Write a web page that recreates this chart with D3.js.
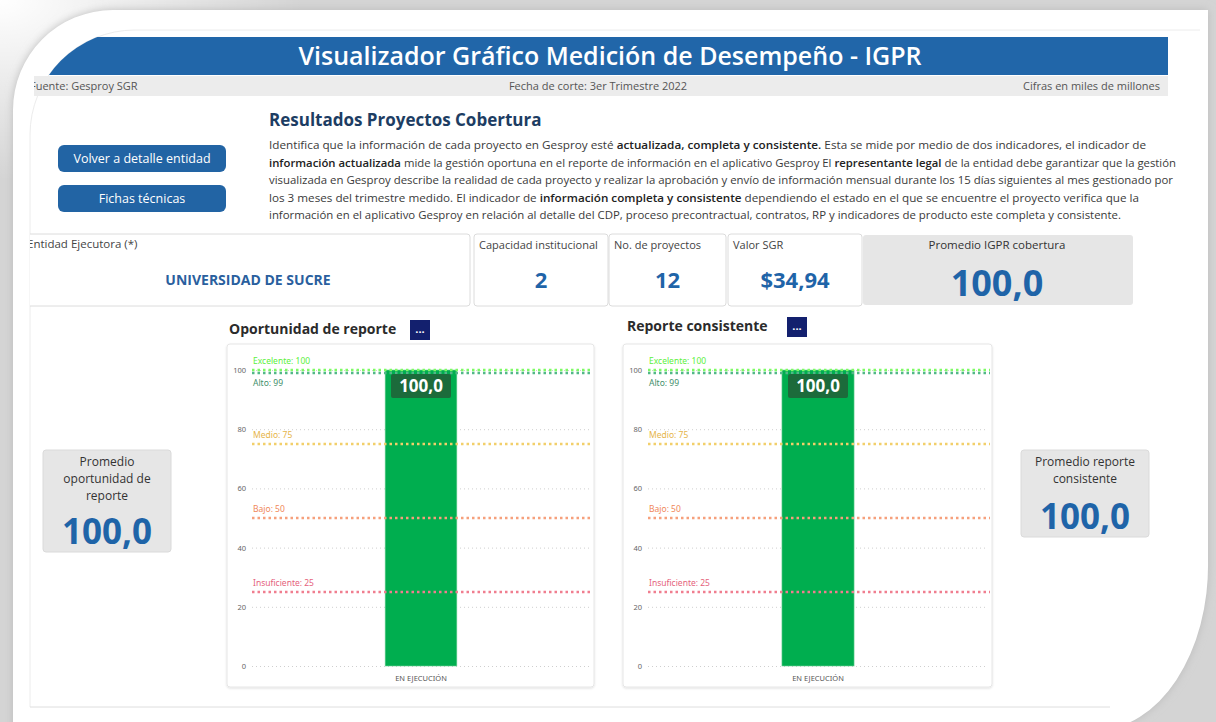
<!DOCTYPE html>
<html>
<head>
<meta charset="utf-8">
<script src="https://cdn.jsdelivr.net/npm/d3@7"></script>
<style>
  body { margin: 0; background: #d6d6d6; }
  svg { display: block; font-family: "Open Sans", "Noto Sans", sans-serif; }
</style>
</head>
<body>
<div id="viz"></div>
<script>
// data
var categories = ['EN EJECUCIÓN'];
var oportunidadValues = [100];
var consistenteValues = [100];
var yTicks = [0, 20, 40, 60, 80, 100];
var levelNames = ['Excelente', 'Alto', 'Medio', 'Bajo', 'Insuficiente'];
var levelValues = [100, 99, 75, 50, 25];
var levelColors = ['#7dfb63', '#52b788', '#f2cf6a', '#f6a07c', '#f07e8f'];
var levelTextColors = ['#5cf03c', '#3f8f6c', '#e6b54a', '#f0875a', '#e5627c'];

var kpiLabels = ['Capacidad institucional', 'No. de proyectos', 'Valor SGR'];
var kpiValues = ['2', '12', '$34,94'];
var entidad = 'UNIVERSIDAD DE SUCRE';
var promedioIGPR = 100.0;
var promedioOportunidad = 100.0;
var promedioConsistente = 100.0;

var paragraph = [
  'Identifica que la información de cada proyecto en Gesproy esté **actualizada, completa y consistente.** Esta se mide por medio de dos indicadores, el indicador de',
  '**información actualizada** mide la gestión oportuna en el reporte de información en el aplicativo Gesproy El **representante legal** de la entidad debe garantizar que la gestión',
  'visualizada en Gesproy describe la realidad de cada proyecto y realizar la aprobación y envío de información mensual durante los 15 días siguientes al mes gestionado por',
  'los 3 meses del trimestre medido. El indicador de **información completa y consistente** dependiendo el estado en el que se encuentre el proyecto verifica que la',
  'información en el aplicativo Gesproy en relación al  detalle del CDP, proceso precontractual, contratos, RP y indicadores de producto este completa y consistente.'
];
var lineEnds = [1146, 1176, 1173, 1139, 1121];

var blue = '#2166a9';
var valBlue = '#1f64a8';
var fmt = function (v) { return v.toFixed(1).replace('.', ','); };

var svg = d3.select('#viz').append('svg')
  .attr('width', 1216)
  .attr('height', 722);

var defs = svg.append('defs');
var glow = defs.append('radialGradient').attr('id', 'glow')
  .attr('cx', 0).attr('cy', 0).attr('r', 0.25);
glow.append('stop').attr('offset', '0%').attr('stop-color', '#fff').attr('stop-opacity', 1);
glow.append('stop').attr('offset', '100%').attr('stop-color', '#fff').attr('stop-opacity', 0);
var blur = defs.append('filter').attr('id', 'blur')
  .attr('x', -0.1).attr('y', -0.1).attr('width', 1.2).attr('height', 1.2);
blur.append('feGaussianBlur').attr('stdDeviation', 4);
var cardShadow = defs.append('filter').attr('id', 'cardShadow');
cardShadow.append('feDropShadow').attr('dx', 0).attr('dy', 1).attr('stdDeviation', 1)
  .attr('flood-color', '#000').attr('flood-opacity', 0.12);

// background and white frame
svg.append('rect').attr('width', 1216).attr('height', 722).attr('fill', '#d4d4d4');
svg.append('rect').attr('width', 1216).attr('height', 722).attr('fill', 'url(#glow)');

var framePath = 'M13,740 L13,110 A100,100 0 0 1 113,10 L1208,10 L1208,560 A112,165 0 0 1 1096,730 Z';
svg.append('path').attr('d', framePath).attr('fill', '#bcbcbc').attr('filter', 'url(#blur)');
svg.append('path').attr('d', framePath).attr('fill', '#fff');

// dashboard clip (rounded top-left corner)
defs.append('clipPath').attr('id', 'dash').append('path')
  .attr('d', 'M30,707 L30,135 A105,105 0 0 1 135,30 L1200,30 L1200,707 Z');
defs.append('clipPath').attr('id', 'sub').append('rect')
  .attr('x', 34).attr('y', 76).attr('width', 1166).attr('height', 20);
svg.append('path')
  .attr('d', 'M30,707 L30,135 A105,105 0 0 1 135,30 L1200,30')
  .attr('fill', 'none').attr('stroke', '#ececec');
svg.append('line').attr('x1', 30).attr('x2', 1110).attr('y1', 707).attr('y2', 707)
  .attr('stroke', '#dedede');

var dash = svg.append('g').attr('clip-path', 'url(#dash)');

// header
dash.append('rect').attr('x', 30).attr('y', 37).attr('width', 1138).attr('height', 38).attr('fill', blue);
dash.append('text').attr('x', 610).attr('y', 65).attr('text-anchor', 'middle')
  .attr('fill', '#fff').attr('font-size', 25).attr('font-weight', 600)
  .text('Visualizador Gráfico Medición de Desempeño - IGPR');

// sub header (cut by the left edge only)
var sub = svg.append('g').attr('clip-path', 'url(#sub)');
sub.append('rect').attr('x', 30).attr('y', 76).attr('width', 1138).attr('height', 20).attr('fill', '#ececec');
sub.append('text').attr('x', 30).attr('y', 90).attr('font-size', 11).attr('fill', '#555')
  .text('Fuente: Gesproy SGR');
sub.append('text').attr('x', 598).attr('y', 90).attr('font-size', 11).attr('fill', '#555')
  .attr('text-anchor', 'middle').text('Fecha de corte: 3er Trimestre 2022');
sub.append('text').attr('x', 1160).attr('y', 90).attr('font-size', 11).attr('fill', '#555')
  .attr('text-anchor', 'end').text('Cifras en miles de millones');

// buttons
var buttons = ['Volver a detalle entidad', 'Fichas técnicas'];
buttons.forEach(function (b, i) {
  var y = 145 + i * 40;
  dash.append('rect').attr('x', 58).attr('y', y).attr('width', 168).attr('height', 27)
    .attr('rx', 6).attr('fill', '#2264a4');
  dash.append('text').attr('x', 142).attr('y', y + 18).attr('text-anchor', 'middle')
    .attr('fill', '#fff').attr('font-size', 12.5).text(b);
});

// section title and description
dash.append('text').attr('x', 269).attr('y', 126).attr('font-size', 17).attr('font-weight', 700)
  .attr('fill', '#1d3d63').text('Resultados Proyectos Cobertura');

paragraph.forEach(function (line, i) {
  var t = dash.append('text').attr('x', 269).attr('y', 149 + i * 17.6)
    .attr('font-size', 11).attr('fill', '#3a3a3a')
    .attr('textLength', lineEnds[i] - 269).attr('lengthAdjust', 'spacingAndGlyphs');
  line.split('**').forEach(function (part, j) {
    t.append('tspan').attr('font-weight', j % 2 ? 600 : 400)
      .attr('fill', j % 2 ? '#222' : '#3a3a3a').text(part);
  });
});

// KPI row
function card(x, y, w, h, fill) {
  return dash.append('rect').attr('x', x).attr('y', y).attr('width', w).attr('height', h)
    .attr('rx', 3).attr('fill', fill || '#fff').attr('stroke', fill ? 'none' : '#dcdcdc');
}
card(26, 234, 444, 72);
dash.append('text').attr('x', 27).attr('y', 248).attr('font-size', 11.5).attr('fill', '#444')
  .text('Entidad Ejecutora (*)');
dash.append('text').attr('x', 248).attr('y', 285).attr('text-anchor', 'middle')
  .attr('font-size', 14).attr('font-weight', 700).attr('fill', '#2a5f9e').text(entidad);

var kpiX = [474, 609, 728];
var kpiW = [134, 117, 134];
kpiLabels.forEach(function (lab, i) {
  card(kpiX[i], 234, kpiW[i], 72);
  dash.append('text').attr('x', kpiX[i] + 5).attr('y', 249).attr('font-size', 11)
    .attr('fill', '#444').text(lab);
  dash.append('text').attr('x', kpiX[i] + kpiW[i] / 2).attr('y', 288).attr('text-anchor', 'middle')
    .attr('font-size', 22).attr('font-weight', 700).attr('fill', valBlue).text(kpiValues[i]);
});

card(863, 235, 270, 70, '#e6e6e6');
dash.append('text').attr('x', 997).attr('y', 249).attr('text-anchor', 'middle')
  .attr('font-size', 11.5).attr('fill', '#333').text('Promedio IGPR cobertura');
dash.append('text').attr('x', 997).attr('y', 296).attr('text-anchor', 'middle')
  .attr('font-size', 36).attr('font-weight', 700).attr('fill', valBlue).text(fmt(promedioIGPR));

// side cards
function sideCard(x, y, h, lines, value, valueY) {
  card(x, y, 128, h, '#e6e6e6').attr('stroke', '#dadada');
  lines.forEach(function (l, i) {
    dash.append('text').attr('x', x + 64).attr('y', y + 16 + i * 17).attr('text-anchor', 'middle')
      .attr('font-size', 12).attr('fill', '#333').text(l);
  });
  dash.append('text').attr('x', x + 64).attr('y', valueY).attr('text-anchor', 'middle')
    .attr('font-size', 35).attr('font-weight', 700).attr('fill', valBlue).text(fmt(value));
}
sideCard(43, 450, 102, ['Promedio', 'oportunidad de', 'reporte'], promedioOportunidad, 544);
sideCard(1021, 450, 87, ['Promedio reporte', 'consistente'], promedioConsistente, 529);

// bar chart panels
function barChart(opts) {
  var g = dash.append('g');
  g.append('text').attr('x', opts.titleX).attr('y', opts.titleY).attr('font-size', 14)
    .attr('font-weight', 700).attr('fill', '#2b2b2b').text(opts.title);
  g.append('rect').attr('x', opts.btnX).attr('y', opts.titleY - 14).attr('width', 20).attr('height', 20)
    .attr('fill', '#13206e');
  g.append('text').attr('x', opts.btnX + 10).attr('y', opts.titleY - 1).attr('text-anchor', 'middle')
    .attr('font-size', 11).attr('font-weight', 700).attr('fill', '#fff').text('...');

  g.append('rect').attr('x', opts.x).attr('y', 344).attr('width', opts.w).attr('height', 343)
    .attr('rx', 3).attr('fill', '#fff').attr('stroke', '#e6e6e6').attr('filter', 'url(#cardShadow)');

  var left = opts.x + 25, right = opts.x + opts.w - 4;
  var y = d3.scaleLinear().domain([0, 100]).range([666, 370]);
  var x = d3.scaleBand().domain(categories).range([left, right]).padding(0.65);

  // y axis
  var yAxis = g.append('g').attr('transform', 'translate(' + left + ',0)')
    .call(d3.axisLeft(y).tickValues(yTicks).tickSize(-(right - left)).tickPadding(6));
  yAxis.select('.domain').remove();
  yAxis.selectAll('.tick line').attr('stroke', '#cfcfcf').attr('stroke-dasharray', '1,3');
  yAxis.selectAll('.tick text').attr('font-size', 7.5).attr('fill', '#666')
    .attr('font-family', '"Noto Sans", sans-serif');

  // bars
  g.selectAll('.bar').data(opts.values).enter().append('rect')
    .attr('class', 'bar')
    .attr('x', function (d, i) { return x(categories[i]); })
    .attr('width', x.bandwidth())
    .attr('y', function (d) { return y(d); })
    .attr('height', function (d) { return y(0) - y(d); })
    .attr('fill', '#00ae4f').attr('stroke', '#6fcf97').attr('stroke-width', 0.6);

  // reference lines
  levelValues.forEach(function (v, i) {
    g.append('line').attr('x1', left).attr('x2', right + 2).attr('y1', y(v)).attr('y2', y(v))
      .attr('stroke', levelColors[i]).attr('stroke-width', 2.5).attr('stroke-dasharray', '2.5,3');
    var above = levelNames[i] !== 'Alto';
    g.append('text').attr('x', left + 1).attr('y', above ? y(v) - 6 : y(v) + 13)
      .attr('font-size', 8.5).attr('fill', levelTextColors[i])
      .attr('font-family', '"Noto Sans", sans-serif')
      .text(levelNames[i] + ': ' + v);
  });

  // data labels
  opts.values.forEach(function (d, i) {
    var cx = x(categories[i]) + x.bandwidth() / 2;
    g.append('rect').attr('x', cx - 30).attr('y', y(d) + 4).attr('width', 60).attr('height', 24)
      .attr('rx', 2).attr('fill', '#1c6b3b');
    g.append('text').attr('x', cx).attr('y', y(d) + 22).attr('text-anchor', 'middle')
      .attr('font-size', 17).attr('font-weight', 700).attr('fill', '#fff').text(fmt(d));
  });

  // x axis
  var xAxis = g.append('g').attr('transform', 'translate(0,' + 670 + ')')
    .call(d3.axisBottom(x).tickSize(0).tickPadding(6));
  xAxis.select('.domain').remove();
  xAxis.selectAll('.tick text').attr('font-size', 7.5).attr('fill', '#555')
    .attr('font-family', '"Noto Sans", sans-serif');
}

barChart({ title: 'Oportunidad de reporte', titleX: 229, titleY: 334, btnX: 410,
  x: 227, w: 367, values: oportunidadValues });
barChart({ title: 'Reporte consistente', titleX: 627, titleY: 331, btnX: 787,
  x: 623, w: 369, values: consistenteValues });
</script>
</body>
</html>
